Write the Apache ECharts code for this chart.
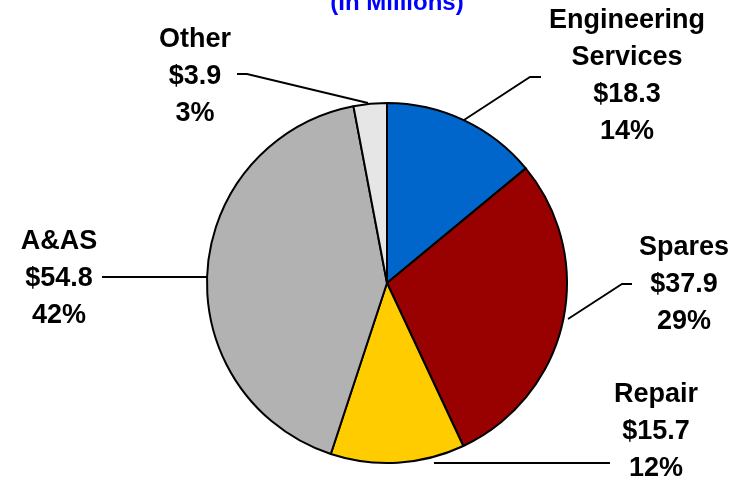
<!DOCTYPE html>
<html>
<head>
<meta charset="utf-8">
<script src="https://cdn.jsdelivr.net/npm/echarts@6/dist/echarts.min.js"></script>
<style>
  html, body { margin: 0; padding: 0; background: #fff; }
  #chart { width: 744px; height: 481px; }
</style>
</head>
<body>
<div id="chart"></div>
<script>
// 数据
const categories = ['Engineering Services', 'Spares', 'Repair', 'A&AS', 'Other']
const values = [18.3, 37.9, 15.7, 54.8, 3.9]
const colors = ['#0066CC', '#990000', '#FFCC00', '#B2B2B2', '#E6E6E6']

// 标签位置及引导线
const labelSpots = [
  { x: 627, y: 76, line: [[464, 120], [530, 77], [541, 77]] },
  { x: 684, y: 285, line: [[568, 319], [622, 284], [632, 284]] },
  { x: 656, y: 432, line: [[434, 463], [520, 463], [610, 463]] },
  { x: 59, y: 279, line: [[207, 277], [150, 277], [102, 277]] },
  { x: 195, y: 77, line: [[368, 103], [247, 74], [237, 74]] }
]

const chart = echarts.init(document.getElementById('chart'))
const option = {
  animation: false,
  graphic: [
    {
      type: 'text',
      x: 397,
      y: 15,
      style: {
        text: '(In Millions)',
        align: 'center',
        verticalAlign: 'bottom',
        font: 'bold 24px "Liberation Sans", Arial, sans-serif',
        fill: '#0000FF'
      }
    }
  ],
  series: [
    {
      type: 'pie',
      center: [387, 283],
      radius: 180,
      startAngle: 90,
      clockwise: true,
      emphasis: { disabled: true },
      itemStyle: {
        borderColor: '#000',
        borderWidth: 2
      },
      label: {
        show: true,
        position: 'outside',
        fontFamily: 'Liberation Sans',
        fontWeight: 'bold',
        fontSize: 27,
        lineHeight: 37,
        color: '#000',
        align: 'center',
        formatter: function (p) {
          return p.name.replace(' ', '\n') + '\n$' + p.value.toFixed(1) + '\n' + Math.round(p.percent) + '%'
        }
      },
      labelLine: {
        show: true,
        lineStyle: { color: '#000', width: 1.8 }
      },
      labelLayout: function (params) {
        const s = labelSpots[params.dataIndex]
        return {
          x: s.x,
          y: s.y,
          align: 'center',
          verticalAlign: 'middle',
          labelLinePoints: s.line
        }
      },
      data: categories.map((name, i) => ({
        name: name,
        value: values[i],
        itemStyle: { color: colors[i] }
      }))
    }
  ]
}
chart.setOption(option)
</script>
</body>
</html>
